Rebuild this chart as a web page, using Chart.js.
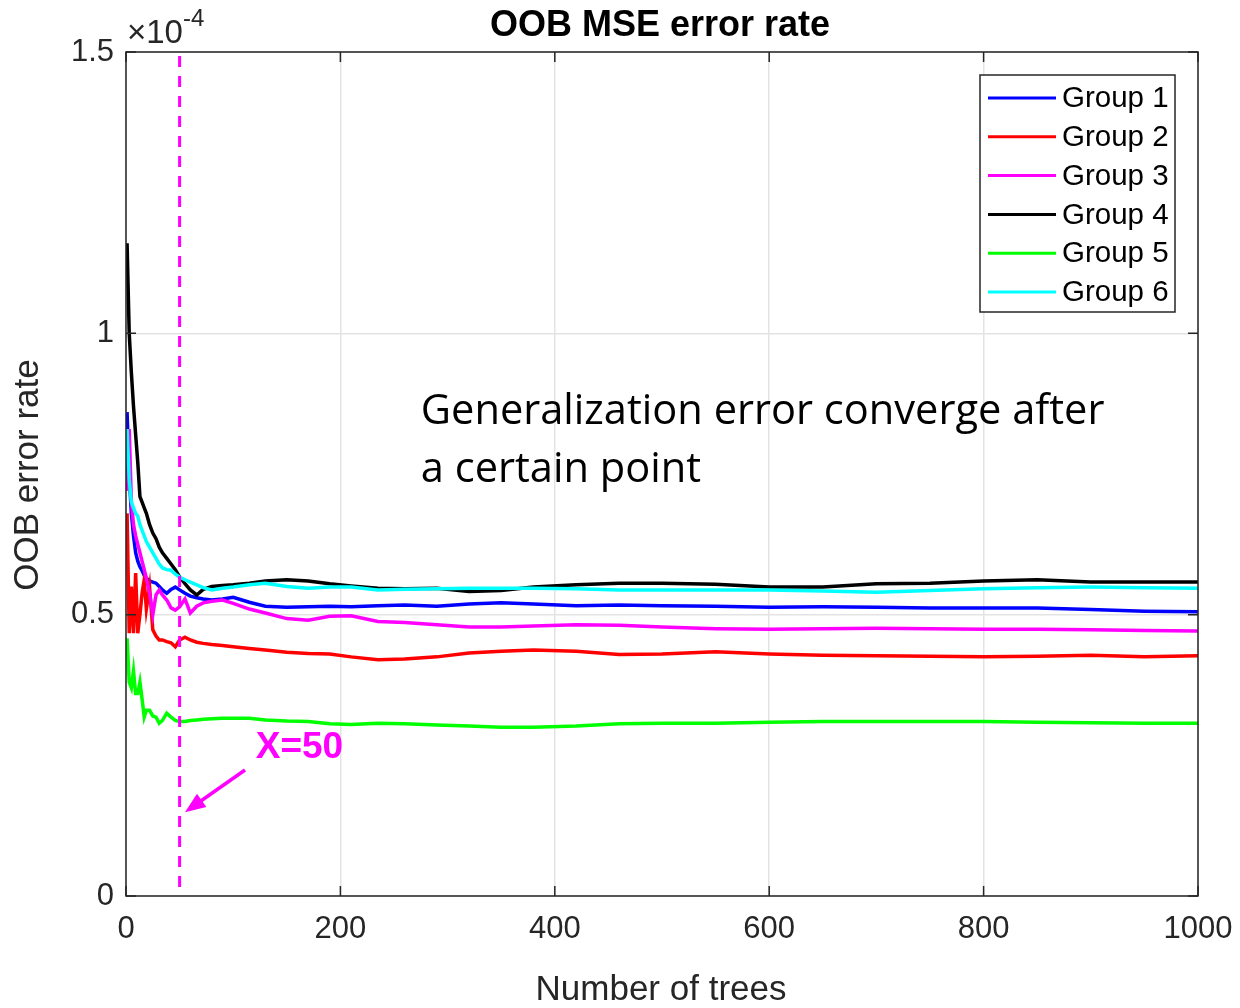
<!DOCTYPE html>
<html>
<head>
<meta charset="utf-8">
<script src="https://cdn.jsdelivr.net/npm/chart.js@4"></script>
<style>
    body { margin: 0; background: #fff; }
    #wrap { width: 1240px; height: 1008px; position: relative; }
</style>
</head>
<body>
<div id="wrap"><canvas id="oobChart"></canvas></div>
<script>
// 資料（誤差單位：×10^-4）
const TREES = [1, 3, 5, 7, 9, 11, 13, 15, 17, 19, 22, 25, 28, 31, 34, 38, 42, 46, 50, 55, 60, 66, 72, 80, 90, 100,
    115, 130, 150, 170, 190, 210, 235, 260, 290, 320, 350, 380, 420, 460, 500, 550, 600, 650, 700, 750, 800, 850, 900, 950, 1000];

const G1_ERR = [0.86, 0.75, 0.68, 0.64, 0.61, 0.595, 0.585, 0.578, 0.57, 0.565, 0.56, 0.558, 0.556, 0.55, 0.544, 0.538, 0.545, 0.549, 0.544, 0.538, 0.533, 0.53, 0.528, 0.526, 0.528, 0.531,
    0.522, 0.515, 0.513, 0.514, 0.515, 0.514, 0.516, 0.517, 0.515, 0.519, 0.521, 0.519, 0.516, 0.517, 0.516, 0.515, 0.513, 0.514, 0.513, 0.512, 0.512, 0.512, 0.509, 0.506, 0.505];
const G2_ERR = [0.68, 0.467, 0.55, 0.467, 0.574, 0.467, 0.50, 0.538, 0.562, 0.51, 0.549, 0.473, 0.462, 0.455, 0.455, 0.452, 0.45, 0.443, 0.455, 0.46, 0.455, 0.451, 0.449, 0.447, 0.445, 0.443,
    0.44, 0.437, 0.433, 0.431, 0.43, 0.425, 0.42, 0.421, 0.425, 0.432, 0.435, 0.437, 0.435, 0.429, 0.43, 0.434, 0.43, 0.428, 0.427, 0.426, 0.425, 0.426, 0.428, 0.425, 0.427];
const G3_ERR = [0.72, 0.83, 0.70, 0.66, 0.64, 0.625, 0.61, 0.595, 0.58, 0.565, 0.538, 0.50, 0.535, 0.544, 0.535, 0.526, 0.512, 0.508, 0.514, 0.528, 0.503, 0.515, 0.521, 0.524, 0.526, 0.52,
    0.51, 0.503, 0.493, 0.49, 0.497, 0.498, 0.488, 0.486, 0.482, 0.478, 0.478, 0.48, 0.482, 0.481, 0.478, 0.475, 0.474, 0.475, 0.476, 0.475, 0.474, 0.474, 0.473, 0.472, 0.471];
const G4_ERR = [1.16, 1.0, 0.93, 0.87, 0.82, 0.77, 0.71, 0.70, 0.69, 0.68, 0.66, 0.645, 0.635, 0.62, 0.61, 0.60, 0.59, 0.58, 0.567, 0.555, 0.544, 0.535, 0.545, 0.55, 0.552, 0.553,
    0.556, 0.56, 0.562, 0.56, 0.555, 0.551, 0.547, 0.546, 0.547, 0.541, 0.543, 0.549, 0.553, 0.556, 0.556, 0.554, 0.549, 0.549, 0.555, 0.556, 0.56, 0.562, 0.558, 0.558, 0.558];
const G5_ERR = [0.458, 0.38, 0.37, 0.40, 0.36, 0.36, 0.38, 0.35, 0.318, 0.33, 0.33, 0.32, 0.318, 0.307, 0.312, 0.325, 0.318, 0.312, 0.31, 0.31, 0.312, 0.313, 0.314, 0.315, 0.316, 0.316,
    0.316, 0.313, 0.311, 0.31, 0.306, 0.305, 0.307, 0.306, 0.304, 0.302, 0.3, 0.3, 0.302, 0.306, 0.307, 0.307, 0.309, 0.31, 0.31, 0.31, 0.31, 0.309, 0.308, 0.307, 0.307];
const G6_ERR = [0.83, 0.74, 0.70, 0.69, 0.68, 0.675, 0.66, 0.65, 0.64, 0.63, 0.62, 0.61, 0.60, 0.59, 0.583, 0.58, 0.579, 0.572, 0.567, 0.562, 0.558, 0.553, 0.548, 0.544, 0.547, 0.549,
    0.553, 0.556, 0.55, 0.547, 0.549, 0.549, 0.544, 0.545, 0.546, 0.547, 0.547, 0.547, 0.546, 0.544, 0.544, 0.544, 0.544, 0.542, 0.54, 0.543, 0.546, 0.548, 0.549, 0.548, 0.547];

const GROUP_LABELS = ['Group 1', 'Group 2', 'Group 3', 'Group 4', 'Group 5', 'Group 6'];
const GROUP_SERIES = [G1_ERR, G2_ERR, G3_ERR, G4_ERR, G5_ERR, G6_ERR];
const X_TICKS = [0, 200, 400, 600, 800, 1000];
const Y_TICKS = [0, 0.5, 1, 1.5];
const CUTOFF_X = 50;

// 色彩
const GROUP_COLORS = ['#0000FF', '#FF0000', '#FF00FF', '#000000', '#00FF00', '#00FFFF'];
const AXIS_COLOR = '#262626';
const FONT = '"Liberation Sans", Arial, sans-serif';

// 外框、內側刻度、標題、圖例與註解
const decorPlugin = {
    id: 'decor',
    afterDatasetsDraw(chart) {
        const ctx = chart.ctx;
        const a = chart.chartArea;
        const xs = chart.scales.x;
        const ys = chart.scales.y;
        ctx.save();

        // X=50 虛線
        const cx = xs.getPixelForValue(CUTOFF_X);
        ctx.strokeStyle = '#FF00FF';
        ctx.lineWidth = 3;
        ctx.setLineDash([11, 9]);
        ctx.beginPath();
        ctx.moveTo(cx, a.top + 4);
        ctx.lineTo(cx, a.bottom);
        ctx.stroke();
        ctx.setLineDash([]);

        // 外框
        ctx.strokeStyle = AXIS_COLOR;
        ctx.lineWidth = 1.5;
        ctx.strokeRect(a.left, a.top, a.right - a.left, a.bottom - a.top);

        // 內側刻度
        const tl = 10;
        ctx.beginPath();
        X_TICKS.forEach(v => {
            const px = xs.getPixelForValue(v);
            ctx.moveTo(px, a.bottom); ctx.lineTo(px, a.bottom - tl);
            ctx.moveTo(px, a.top); ctx.lineTo(px, a.top + tl);
        });
        Y_TICKS.forEach(v => {
            const py = ys.getPixelForValue(v);
            ctx.moveTo(a.left, py); ctx.lineTo(a.left + tl, py);
            ctx.moveTo(a.right, py); ctx.lineTo(a.right - tl, py);
        });
        ctx.stroke();

        // 標題
        ctx.fillStyle = '#000';
        ctx.font = `bold 36px ${FONT}`;
        ctx.textAlign = 'center';
        ctx.textBaseline = 'middle';
        ctx.fillText('OOB MSE error rate', 660, 26);

        // 軸標題
        ctx.fillStyle = AXIS_COLOR;
        ctx.font = `35px ${FONT}`;
        ctx.fillText('Number of trees', 661, 990);
        ctx.save();
        ctx.translate(28, 475);
        ctx.rotate(-Math.PI / 2);
        ctx.fillText('OOB error rate', 0, 0);
        ctx.restore();

        // ×10^-4
        ctx.textAlign = 'left';
        ctx.textBaseline = 'alphabetic';
        ctx.font = `33px ${FONT}`;
        ctx.fillText('\u00D710', a.left + 1, 43);
        const w = ctx.measureText('\u00D710').width;
        ctx.font = `24px ${FONT}`;
        ctx.fillText('-4', a.left + 1 + w, 26);

        // 圖例
        const lx = 980, ly = 75, lw = 195, lh = 237;
        ctx.fillStyle = '#fff';
        ctx.fillRect(lx, ly, lw, lh);
        ctx.strokeStyle = AXIS_COLOR;
        ctx.lineWidth = 1.5;
        ctx.strokeRect(lx, ly, lw, lh);
        ctx.font = `29.5px ${FONT}`;
        ctx.textBaseline = 'middle';
        GROUP_LABELS.forEach((name, i) => {
            const y = 98 + i * 38.8;
            ctx.strokeStyle = GROUP_COLORS[i];
            ctx.lineWidth = 3;
            ctx.beginPath();
            ctx.moveTo(988, y);
            ctx.lineTo(1056, y);
            ctx.stroke();
            ctx.fillStyle = '#000';
            ctx.fillText(name, 1062, y + 1);
        });

        // 註解文字
        ctx.fillStyle = '#000';
        ctx.font = '41.6px "Open Sans", "Noto Sans", sans-serif';
        ctx.textBaseline = 'middle';
        const tx = xs.getPixelForValue(275);
        ctx.fillText('Generalization error converge after', tx, ys.getPixelForValue(0.86));
        ctx.fillText('a certain point', tx, ys.getPixelForValue(0.757));

        // X=50 與箭頭
        ctx.fillStyle = '#FF00FF';
        ctx.font = `bold 37px ${FONT}`;
        ctx.fillText('X=50', xs.getPixelForValue(121), ys.getPixelForValue(0.263));
        const x0 = xs.getPixelForValue(111), y0 = ys.getPixelForValue(0.224);
        const x1 = xs.getPixelForValue(55), y1 = ys.getPixelForValue(0.149);
        const ang = Math.atan2(y1 - y0, x1 - x0);
        ctx.strokeStyle = '#FF00FF';
        ctx.lineWidth = 3.5;
        ctx.beginPath();
        ctx.moveTo(x0, y0);
        ctx.lineTo(x1 - 12 * Math.cos(ang), y1 - 12 * Math.sin(ang));
        ctx.stroke();
        ctx.beginPath();
        ctx.moveTo(x1, y1);
        ctx.lineTo(x1 - 22 * Math.cos(ang - 0.38), y1 - 22 * Math.sin(ang - 0.38));
        ctx.lineTo(x1 - 22 * Math.cos(ang + 0.38), y1 - 22 * Math.sin(ang + 0.38));
        ctx.closePath();
        ctx.fill();

        ctx.restore();
    }
};

const datasets = GROUP_SERIES.map((vals, i) => ({
    label: GROUP_LABELS[i],
    data: TREES.map((t, k) => ({ x: t, y: vals[k] })),
    borderColor: GROUP_COLORS[i],
    borderWidth: 3.5,
    pointRadius: 0,
    tension: 0,
    fill: false,
    order: GROUP_SERIES.length - i,
}));

new Chart(document.getElementById('oobChart'), {
    type: 'line',
    data: { datasets: datasets },
    options: {
        responsive: true,
        maintainAspectRatio: false,
        animation: false,
        events: [],
        layout: { padding: { top: 52, right: 42, left: 0, bottom: 0 } },
        plugins: {
            legend: { display: false },
            tooltip: { enabled: false },
        },
        scales: {
            x: {
                type: 'linear',
                min: 0,
                max: 1000,
                afterBuildTicks: s => { s.ticks = X_TICKS.map(v => ({ value: v })); },
                afterFit: s => { s.height = 112; s.paddingLeft = 0; s.paddingRight = 0; },
                grid: { color: '#e3e3e3', lineWidth: 1.5, drawTicks: false },
                border: { display: false },
                ticks: { color: AXIS_COLOR, font: { family: FONT, size: 31 }, padding: 15, maxRotation: 0,
                    callback: v => String(v) },
            },
            y: {
                type: 'linear',
                min: 0,
                max: 1.5,
                afterBuildTicks: s => { s.ticks = Y_TICKS.map(v => ({ value: v })); },
                afterFit: s => { s.width = 126; s.paddingTop = 0; s.paddingBottom = 0; },
                grid: { color: '#e3e3e3', lineWidth: 1.5, drawTicks: false },
                border: { display: false },
                ticks: { color: AXIS_COLOR, font: { family: FONT, size: 31 }, padding: 12,
                    callback: v => String(v) },
            },
        },
    },
    plugins: [decorPlugin],
});
</script>
</body>
</html>
